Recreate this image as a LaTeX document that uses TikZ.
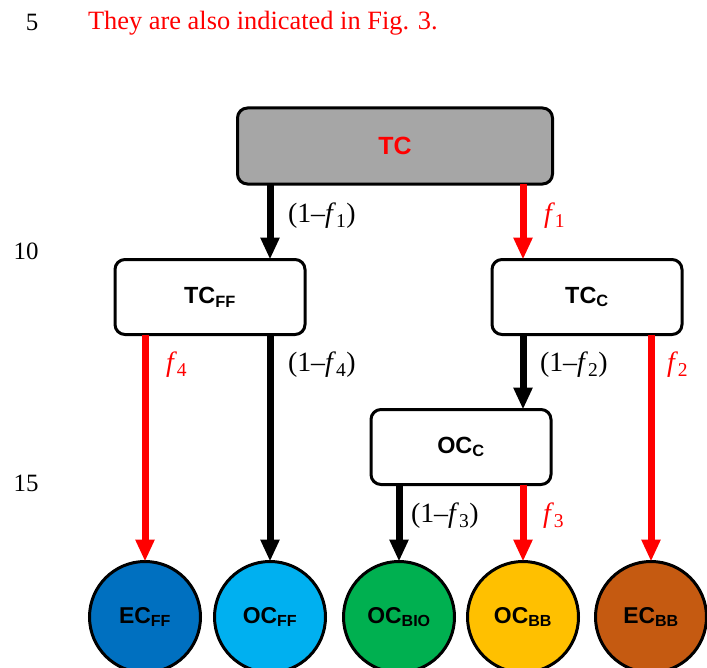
\documentclass[tikz,border=0pt]{standalone}
\usepackage{fontspec}
\setmainfont{Liberation Serif}
\setsansfont{Liberation Sans}
\usetikzlibrary{arrows.meta}
\definecolor{tcgray}{HTML}{A6A6A6}
\definecolor{ecffblue}{HTML}{0070C0}
\definecolor{ocffblue}{HTML}{00B0F0}
\definecolor{ocbiogreen}{HTML}{00B050}
\definecolor{ocbbyellow}{HTML}{FFC000}
\definecolor{ecbbbrown}{HTML}{C55A11}
\newcommand{\fsub}[1]{\textit{f}\textsubscript{#1}}
\begin{document}
\begin{tikzpicture}[x=1bp,y=-1bp,inner sep=0pt,outer sep=0pt,line width=3bp,
poolbox/.style={draw,rectangle,rounded corners=10bp,fill=white,minimum width=190bp,minimum height=75bp,font=\sffamily\bfseries\fontsize{23.5}{26}\selectfont},
poolcirc/.style={draw,circle,minimum size=111bp,font=\sffamily\bfseries\fontsize{23}{26}\selectfont},
flowk/.style={line width=7bp,-{Triangle[width=18bp,length=22bp]}},
flowr/.style={flowk,red},
lbl/.style={anchor=west,font=\fontsize{28}{30}\selectfont},
lineno/.style={font=\fontsize{25}{28}\selectfont}]
\useasboundingbox (0,0) rectangle (707,668);
\node[lineno] (n5) at (32,22) {5};
\node[lineno,anchor=base west,red,font=\fontsize{26.5}{29}\selectfont] (txt) at (88,30) {They are also indicated in Fig. 3.};
\node[lineno] (n10) at (26,251) {10};
\node[lineno] (n15) at (26,483) {15};
% pools
\draw (395,146) node[poolbox,fill=tcgray,minimum width=315bp,minimum height=76bp,text=red,font=\sffamily\bfseries\fontsize{25}{28}\selectfont] (TC) {TC};
\draw (210,297) node[poolbox] (TCff) {TC\textsubscript{FF}};
\draw (587,297) node[poolbox] (TCc) {TC\textsubscript{C}};
\draw (461,447) node[poolbox,minimum width=180bp] (OCc) {OC\textsubscript{C}};
\draw (145,617) node[poolcirc,fill=ecffblue] (ECff) {EC\textsubscript{FF}};
\draw (270,617) node[poolcirc,fill=ocffblue] (OCff) {OC\textsubscript{FF}};
\draw (399,617) node[poolcirc,fill=ocbiogreen] (OCbio) {OC\textsubscript{BIO}};
\draw (523,617) node[poolcirc,fill=ocbbyellow] (OCbb) {OC\textsubscript{BB}};
\draw (651,617) node[poolcirc,fill=ecbbbrown] (ECbb) {EC\textsubscript{BB}};
% fluxes
\draw[flowk] (OCff.north |- TC.south) -- (OCff.north |- TCff.north);
\draw[flowr] (OCbb.north |- TC.south) -- (OCbb.north |- TCc.north);
\draw[flowr] (ECff.north |- TCff.south) -- (ECff.north);
\draw[flowk] (OCff.north |- TCff.south) -- (OCff.north);
\draw[flowk] (OCbb.north |- TCc.south) -- (OCbb.north |- OCc.north);
\draw[flowr] (ECbb.north |- TCc.south) -- (ECbb.north);
\draw[flowk] (OCbio.north |- OCc.south) -- (OCbio.north);
\draw[flowr] (OCbb.north |- OCc.south) -- (OCbb.north);
% fractions
\node[lbl] (l1) at (288,216) {(1--\fsub{1})};
\node[lbl,red] (r1) at (544,216) {\fsub{1}};
\node[lbl,red] (r4) at (166,365) {\fsub{4}};
\node[lbl] (l4) at (288,365) {(1--\fsub{4})};
\node[lbl] (l2) at (540,365) {(1--\fsub{2})};
\node[lbl,red] (r2) at (667,365) {\fsub{2}};
\node[lbl] (l3) at (411,516) {(1--\fsub{3})};
\node[lbl,red] (r3) at (543,516) {\fsub{3}};
\end{tikzpicture}
\end{document}
